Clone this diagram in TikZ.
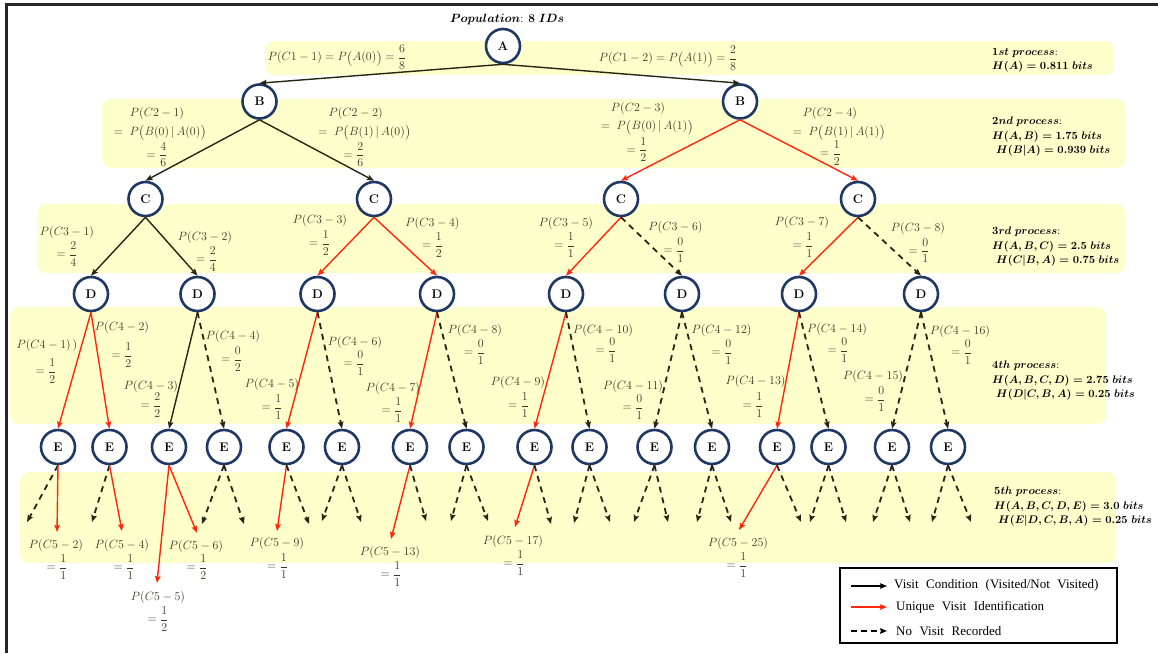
\documentclass[tikz,border=0pt]{standalone}
\usepackage{amsmath}
\usepackage{fontspec}
\newfontfamily\legfont{Liberation Serif}
\usetikzlibrary{arrows.meta}
\definecolor{bandc}{RGB}{255,255,204}
\definecolor{navy}{RGB}{31,56,100}
\definecolor{dk}{RGB}{38,38,18}
\definecolor{rd}{RGB}{255,40,10}
\definecolor{lbc}{RGB}{56,56,36}
\newcommand{\legsp}{\spaceskip=7.5pt plus 1pt\relax}
\newcommand{\bpo}{\mathopen{\raisebox{-1.3pt}{\scalebox{1.2}{(}}}}
\newcommand{\bpc}{\mathclose{\raisebox{-1.3pt}{\scalebox{1.2}{)}}}}
\newcommand{\twolab}[8]{%
  \node[lb] (#1p) at (#2,#3) {$#6$};
  \node[lb] (#1f) at (#4,#5) {$=\dfrac{#7}{#8}$};}
\begin{document}
\begin{tikzpicture}[x=1pt,y=-1pt,
  nd/.style={circle, draw=navy, line width=2.6pt, fill=white, minimum size=34pt, inner sep=0pt, font=\fontsize{12.5}{13}\selectfont\bfseries},
  bandbox/.style={fill=bandc, rounded corners=9pt},
  tipx/.style={-{Stealth[length=7pt,width=5.5pt,inset=1pt]}},
  solidarr/.style={draw=dk, line width=1.4pt, tipx},
  redarr/.style={draw=rd, line width=1.4pt, tipx},
  dasharr/.style={draw=dk, line width=1.8pt, dash pattern=on 6pt off 5pt, tipx},
  lb/.style={text=lbc, inner sep=0pt, font=\fontsize{12.5}{15}\selectfont},
  proc/.style={align=left, anchor=west, inner sep=0pt, font=\fontsize{10.5}{14.5}\selectfont\boldmath},
  legtxt/.style={anchor=west, inner sep=0pt, font=\legfont\fontsize{13}{15}\selectfont\legsp}
]
\useasboundingbox (0,0) rectangle (1158,653);
% frame
\draw[line width=3pt, black!85] (6,653) -- (6,4) -- (1158,4);
% bands
\fill[bandbox] (265,41) rectangle (1114,75);
\fill[bandbox] (102,99) rectangle (1125,168);
\fill[bandbox] (37,204) rectangle (1125,273);
\fill[bandbox] (10,307) rectangle (1106,424);
\fill[bandbox] (20,472) rectangle (1116,563);

% nodes
\node[nd] (A) at (503,46) {A};
\node[nd] (B1) at (259.5,101.5) {B};
\node[nd] (B2) at (740,101.5) {B};
\node[nd] (C1) at (145.5,199) {C};
\node[nd] (C2) at (374,199) {C};
\node[nd] (C3) at (621,199) {C};
\node[nd] (C4) at (858,199) {C};
\foreach \i/\x in {1/91,2/197.5,3/317.5,4/437,5/566,6/682,7/799,8/921}
  \node[nd] (D\i) at (\x,294) {D};
\foreach \i/\x in {1/58,2/109.5,3/169,4/224,5/286.5,6/342,7/410,8/466.5,9/534.5,10/589.5,11/654.5,12/712,13/777,14/828.5,15/892,16/948}
  \node[nd] (E\i) at (\x,447) {E};

% level 1-2
\draw[solidarr] (A.south) -- (B1.north);
\draw[solidarr] (A.south) -- (B2.north);
\draw[solidarr] (B1.south) -- (C1.north);
\draw[solidarr] (B1.south) -- (C2.north);
\draw[redarr] (B2.south) -- (C3.north);
\draw[redarr] (B2.south) -- (C4.north);
% level 3
\draw[solidarr] (C1.south) -- (D1.north);
\draw[solidarr] (C1.south) -- (D2.north);
\draw[redarr] (C2.south) -- (D3.north);
\draw[redarr] (C2.south) -- (D4.north);
\draw[redarr] (C3.south) -- (D5.north);
\draw[dasharr] (C3.south) -- (D6.north);
\draw[redarr] (C4.south) -- (D7.north);
\draw[dasharr] (C4.south) -- (D8.north);
% level 4
\draw[redarr] (D1.south) -- (E1.north);
\draw[redarr] (D1.south) -- (E2.north);
\draw[solidarr] (D2.south) -- (E3.north);
\draw[dasharr] (D2.south) -- (E4.north);
\draw[redarr] (D3.south) -- (E5.north);
\draw[dasharr] (D3.south) -- (E6.north);
\draw[redarr] (D4.south) -- (E7.north);
\draw[dasharr] (D4.south) -- (E8.north);
\draw[redarr] (D5.south) -- (E9.north);
\draw[dasharr] (D5.south) -- (E10.north);
\draw[dasharr] (D6.south) -- (E11.north);
\draw[dasharr] (D6.south) -- (E12.north);
\draw[redarr] (D7.south) -- (E13.north);
\draw[dasharr] (D7.south) -- (E14.north);
\draw[dasharr] (D8.south) -- (E15.north);
\draw[dasharr] (D8.south) -- (E16.north);
% level 5 end points
\coordinate (e1a) at (27,522);  \coordinate (e1b) at (57,532);
\coordinate (e2a) at (92,522);  \coordinate (e2b) at (122,531);
\coordinate (e3a) at (157,583); \coordinate (e3b) at (197,533);
\coordinate (e4a) at (202,524); \coordinate (e4b) at (244,524);
\coordinate (e5a) at (277,531); \coordinate (e5b) at (309,524);
\coordinate (e6a) at (322,521); \coordinate (e6b) at (361,522);
\coordinate (e7a) at (391,539); \coordinate (e7b) at (426,521);
\coordinate (e8a) at (451,521); \coordinate (e8b) at (488,521);
\coordinate (e9a) at (515,527); \coordinate (e9b) at (551,524);
\coordinate (e10a) at (574,523); \coordinate (e10b) at (610,522);
\coordinate (e11a) at (634,522); \coordinate (e11b) at (668,522);
\coordinate (e12a) at (697,522); \coordinate (e12b) at (731,522);
\coordinate (e13a) at (739,530); \coordinate (e13b) at (801,522);
\coordinate (e14a) at (810,522); \coordinate (e14b) at (846,522);
\coordinate (e15a) at (873,522); \coordinate (e15b) at (910,522);
\coordinate (e16a) at (932,522); \coordinate (e16b) at (971,522);
\draw[dasharr] (E1.south) -- (e1a);  \draw[redarr] (E1.south) -- (e1b);
\draw[dasharr] (E2.south) -- (e2a);  \draw[redarr] (E2.south) -- (e2b);
\draw[redarr] (E3.south) -- (e3a);   \draw[redarr] (E3.south) -- (e3b);
\draw[dasharr] (E4.south) -- (e4a);  \draw[dasharr] (E4.south) -- (e4b);
\draw[redarr] (E5.south) -- (e5a);   \draw[dasharr] (E5.south) -- (e5b);
\draw[dasharr] (E6.south) -- (e6a);  \draw[dasharr] (E6.south) -- (e6b);
\draw[redarr] (E7.south) -- (e7a);   \draw[dasharr] (E7.south) -- (e7b);
\draw[dasharr] (E8.south) -- (e8a);  \draw[dasharr] (E8.south) -- (e8b);
\draw[redarr] (E9.south) -- (e9a);   \draw[dasharr] (E9.south) -- (e9b);
\draw[dasharr] (E10.south) -- (e10a); \draw[dasharr] (E10.south) -- (e10b);
\draw[dasharr] (E11.south) -- (e11a); \draw[dasharr] (E11.south) -- (e11b);
\draw[dasharr] (E12.south) -- (e12a); \draw[dasharr] (E12.south) -- (e12b);
\draw[redarr] (E13.south) -- (e13a);  \draw[dasharr] (E13.south) -- (e13b);
\draw[dasharr] (E14.south) -- (e14a); \draw[dasharr] (E14.south) -- (e14b);
\draw[dasharr] (E15.south) -- (e15a); \draw[dasharr] (E15.south) -- (e15b);
\draw[dasharr] (E16.south) -- (e16a); \draw[dasharr] (E16.south) -- (e16b);

% title
\node[inner sep=0pt, font=\fontsize{11.5}{14}\selectfont\boldmath] (pop) at (507,19) {$Population$: $8$ $IDs$};

% level 1 labels
\node[lb] (l11) at (337,57) {$P(C1-1)=P\bpo A(0)\bpc=\dfrac{6}{8}$};
\node[lb] (l12) at (668,58) {$P(C1-2)=P\bpo A(1)\bpc=\dfrac{2}{8}$};
% level 2 labels
\node[lb] (l21p) at (157,113) {$P(C2-1)$};
\node[lb] (l21m) at (160,133) {$=\;P\bpo B(0)\,|\,A(0)\bpc$};
\node[lb] (l21f) at (157,154.5) {$=\dfrac{4}{6}$};
\node[lb] (l22p) at (355.7,113) {$P(C2-2)$};
\node[lb] (l22m) at (364.5,133) {$=\;P\bpo B(1)\,|\,A(0)\bpc$};
\node[lb] (l22f) at (354,154.5) {$=\dfrac{2}{6}$};
\node[lb] (l23p) at (638,108.5) {$P(C2-3)$};
\node[lb] (l23m) at (647,127.5) {$=\;P\bpo B(0)\,|\,A(1)\bpc$};
\node[lb] (l23f) at (637,149.5) {$=\dfrac{1}{2}$};
\node[lb] (l24p) at (830,113.5) {$P(C2-4)$};
\node[lb] (l24m) at (839,133) {$=\;P\bpo B(1)\,|\,A(1)\bpc$};
\node[lb] (l24f) at (830.6,153) {$=\dfrac{1}{2}$};
% level 3 labels
\twolab{l31}{67}{232.7}{67}{254}{P(C3-1)}{2}{4}
\twolab{l32}{205}{237}{206.6}{259}{P(C3-2)}{2}{4}
\twolab{l33}{320}{220.7}{319.6}{243}{P(C3-3)}{1}{2}
\twolab{l34}{432.5}{223}{432.5}{245}{P(C3-4)}{1}{2}
\twolab{l35}{566}{223}{564.5}{245}{P(C3-5)}{1}{1}
\twolab{l36}{675.5}{227}{674}{250}{P(C3-6)}{0}{1}
\twolab{l37}{802}{222.7}{803}{245}{P(C3-7)}{1}{1}
\twolab{l38}{918}{228}{919}{250.7}{P(C3-8)}{0}{1}
% level 4 labels
\twolab{l41}{47}{345.7}{46}{371}{P(C4-1)\,)}{1}{2}
\twolab{l42}{122}{327}{122}{355}{P(C4-2)}{1}{2}
\twolab{l43}{151}{386}{151}{405}{P(C4-3)}{2}{2}
\twolab{l44}{233}{336}{231.5}{359}{P(C4-4)}{0}{2}
\twolab{l45}{272}{384}{272}{407}{P(C4-5)}{1}{1}
\twolab{l46}{355}{342.7}{354}{363}{P(C4-6)}{0}{1}
\twolab{l47}{393}{388}{392}{410}{P(C4-7)}{1}{1}
\twolab{l48}{475}{330.7}{474.5}{352}{P(C4-8)}{0}{1}
\twolab{l49}{518}{382.7}{518.6}{405}{P(C4-9)}{1}{1}
\twolab{l410}{603}{330}{606}{350}{P(C4-10)}{0}{1}
\twolab{l411}{633}{386}{633}{407}{P(C4-11)}{0}{1}
\twolab{l412}{721.5}{330.7}{722}{352}{P(C4-12)}{0}{1}
\twolab{l413}{755.6}{381.7}{753}{405}{P(C4-13)}{1}{1}
\twolab{l414}{837}{329}{838}{350}{P(C4-14)}{0}{1}
\twolab{l415}{873}{376}{875}{399}{P(C4-15)}{0}{1}
\twolab{l416}{960}{331.7}{961.5}{352}{P(C4-16)}{0}{1}
% level 5 labels
\twolab{l52}{56}{545}{57}{567}{P(C5-2)}{1}{1}
\twolab{l54}{122}{545}{124}{567}{P(C5-4)}{1}{1}
\twolab{l55}{158}{597}{158}{619}{P(C5-5)}{1}{2}
\twolab{l56}{196}{546}{197}{567}{P(C5-6)}{1}{2}
\twolab{l59}{277}{543}{277.5}{566}{P(C5-9)}{1}{1}
\twolab{l513}{390}{552}{391}{574}{P(C5-13)}{1}{1}
\twolab{l517}{513}{541}{514}{563}{P(C5-17)}{1}{1}
\twolab{l525}{738}{543}{737}{565}{P(C5-25)}{1}{1}

% process texts
\node[proc] (p1) at (992,60.5) {$1st\ process$:\\$H(A)=0.811\ bits$};
\node[proc] (p2) at (992,137) {$2nd\ process$:\\$H(A,B)=1.75\ bits$\\\hspace*{4pt}$H(B|A)=0.939\ bits$};
\node[proc] (p3) at (992,247) {$3rd\ process$:\\$H(A,B,C)=2.5\ bits$\\\hspace*{4pt}$H(C|B,A)=0.75\ bits$};
\node[proc] (p4) at (992,381) {$4th\ process$:\\$H(A,B,C,D)=2.75\ bits$\\\hspace*{4pt}$H(D|C,B,A)=0.25\ bits$};
\node[proc] (p5) at (994,507) {$5th\ process$:\\$H(A,B,C,D,E)=3.0\ bits$\\\hspace*{4pt}$H(E|D,C,B,A)=0.25\ bits$};

% legend
\node[draw=black, line width=2.6pt, minimum width=277pt, minimum height=75pt, inner sep=0pt] (leg) at (978.5,605.5) {};
\coordinate (g1a) at (851,586); \coordinate (g1b) at (887,586);
\coordinate (g2a) at (851,607); \coordinate (g2b) at (887,607);
\coordinate (g3a) at (851,631); \coordinate (g3b) at (887,631);
\draw[black, line width=1.4pt, tipx] (g1a) -- (g1b);
\draw[rd, line width=1.4pt, tipx] (g2a) -- (g2b);
\draw[black, line width=1.6pt, dash pattern=on 6pt off 4pt, tipx] (g3a) -- (g3b);
\node[legtxt] (t1) at (894,585) {Visit Condition (Visited/Not Visited)};
\node[legtxt] (t2) at (896,607) {Unique Visit Identification};
\node[legtxt] (t3) at (896,631) {No Visit Recorded};
\end{tikzpicture}
\end{document}
